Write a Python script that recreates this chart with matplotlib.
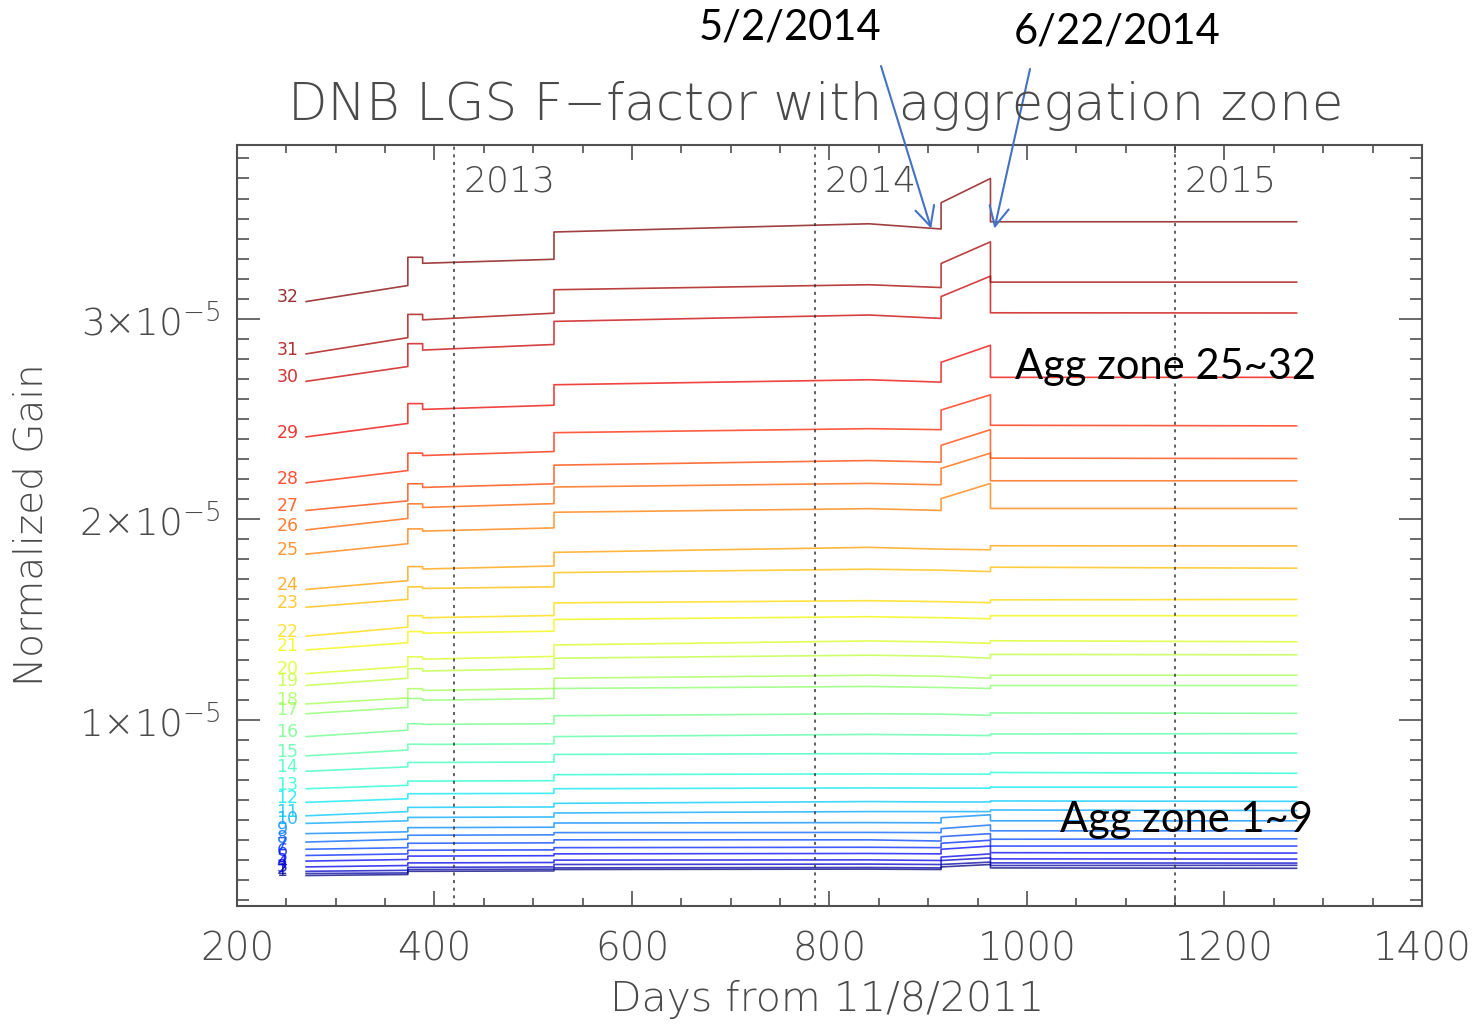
import numpy as np
import matplotlib
matplotlib.use("Agg")
import matplotlib.pyplot as plt
from matplotlib.ticker import MultipleLocator, FuncFormatter

# breakpoints (days from 11/8/2011); a repeated day is a step in the gain
step_days = [270, 373, 373, 388, 388, 521, 521, 840, 913, 913, 963, 963, 1273]
year_days = [420, 785, 1150]
year_names = ["2013", "2014", "2015"]
zones = list(range(1, 33))

# normalized gain (x1e-5) of zones 1..32 at each breakpoint
gain_start = [0.223, 0.233, 0.244, 0.266, 0.295, 0.323, 0.354, 0.390, 0.432, 0.483, 0.521, 0.588, 0.656, 0.743, 0.820, 0.916,
              1.030, 1.079, 1.171, 1.230, 1.348, 1.417, 1.561, 1.650, 1.826, 1.947, 2.044, 2.182, 2.411, 2.688, 2.825, 3.086]
gain_jump1_pre = [0.228, 0.236, 0.249, 0.273, 0.303, 0.331, 0.362, 0.404, 0.441, 0.496, 0.542, 0.606, 0.673, 0.765, 0.849, 0.948,
                  1.062, 1.109, 1.207, 1.266, 1.384, 1.462, 1.601, 1.694, 1.878, 2.004, 2.092, 2.243, 2.478, 2.762, 2.906, 3.166]
gain_jump1_post = [0.244, 0.253, 0.264, 0.286, 0.320, 0.349, 0.384, 0.424, 0.462, 0.513, 0.563, 0.631, 0.694, 0.787, 0.878, 0.980,
                   1.106, 1.155, 1.255, 1.314, 1.440, 1.519, 1.663, 1.764, 1.952, 2.077, 2.177, 2.330, 2.577, 2.876, 3.022, 3.307]
gain_bump_end = [0.244, 0.253, 0.264, 0.286, 0.320, 0.349, 0.384, 0.424, 0.462, 0.513, 0.563, 0.631, 0.694, 0.787, 0.877, 0.977,
                 1.097, 1.146, 1.243, 1.302, 1.432, 1.509, 1.655, 1.752, 1.941, 2.059, 2.159, 2.318, 2.548, 2.844, 2.995, 3.277]
gain_jump2_pre = [0.246, 0.255, 0.266, 0.288, 0.322, 0.351, 0.386, 0.426, 0.464, 0.515, 0.565, 0.633, 0.696, 0.789, 0.880, 0.980,
                  1.106, 1.156, 1.255, 1.316, 1.442, 1.520, 1.663, 1.767, 1.957, 2.078, 2.177, 2.338, 2.569, 2.872, 3.028, 3.297]
gain_jump2_post = [0.253, 0.261, 0.278, 0.300, 0.331, 0.362, 0.401, 0.437, 0.485, 0.535, 0.583, 0.656, 0.726, 0.827, 0.916, 1.020,
                   1.156, 1.207, 1.307, 1.373, 1.500, 1.583, 1.734, 1.835, 2.035, 2.161, 2.270, 2.432, 2.671, 2.987, 3.145, 3.433]
gain_mid = [0.255, 0.263, 0.280, 0.301, 0.333, 0.364, 0.401, 0.438, 0.487, 0.542, 0.592, 0.660, 0.730, 0.831, 0.927, 1.030,
            1.166, 1.222, 1.322, 1.393, 1.514, 1.594, 1.751, 1.860, 2.053, 2.179, 2.293, 2.452, 2.696, 3.019, 3.170, 3.474]
gain_may_pre = [0.253, 0.261, 0.278, 0.298, 0.331, 0.362, 0.395, 0.437, 0.486, 0.542, 0.590, 0.659, 0.729, 0.829, 0.924, 1.028,
                1.161, 1.217, 1.317, 1.388, 1.509, 1.589, 1.746, 1.851, 2.044, 2.172, 2.285, 2.447, 2.684, 3.002, 3.156, 3.448]
gain_may_post = [0.266, 0.278, 0.298, 0.315, 0.354, 0.384, 0.417, 0.457, 0.511, 0.542, 0.590, 0.659, 0.729, 0.829, 0.924, 1.028,
                 1.161, 1.217, 1.317, 1.388, 1.509, 1.589, 1.746, 1.851, 2.103, 2.254, 2.369, 2.545, 2.783, 3.111, 3.276, 3.579]
gain_june_pre = [0.278, 0.290, 0.311, 0.331, 0.370, 0.399, 0.432, 0.475, 0.526, 0.542, 0.590, 0.659, 0.729, 0.829, 0.921, 1.022,
                 1.156, 1.207, 1.307, 1.381, 1.504, 1.584, 1.739, 1.848, 2.179, 2.330, 2.447, 2.621, 2.868, 3.213, 3.384, 3.700]
gain_june_post = [0.261, 0.273, 0.286, 0.306, 0.337, 0.370, 0.404, 0.446, 0.496, 0.550, 0.595, 0.664, 0.737, 0.835, 0.929, 1.034,
                  1.171, 1.222, 1.326, 1.394, 1.519, 1.598, 1.761, 1.868, 2.054, 2.192, 2.305, 2.469, 2.708, 3.030, 3.183, 3.484]
gain_end = [0.259, 0.274, 0.285, 0.305, 0.335, 0.370, 0.406, 0.446, 0.496, 0.547, 0.593, 0.664, 0.733, 0.834, 0.931, 1.032,
            1.171, 1.222, 1.324, 1.389, 1.519, 1.600, 1.756, 1.867, 2.054, 2.192, 2.303, 2.466, 2.708, 3.029, 3.183, 3.484]

gray = "#4a4a4a"
thin = dict(family=["DejaVu Sans"], weight="light", color=gray)
callout = dict(family=["Lato", "DejaVu Sans"], color="black")

fig = plt.figure(figsize=(14.78, 10.25), dpi=100)
ax = fig.add_axes([0.16035, 0.1161, 0.80176, 0.74244])

cmap = plt.get_cmap("jet")
for i, z in enumerate(zones):
    vals = [gain_start[i], gain_jump1_pre[i], gain_jump1_post[i], gain_jump1_post[i], gain_bump_end[i],
            gain_jump2_pre[i], gain_jump2_post[i], gain_mid[i], gain_may_pre[i], gain_may_post[i],
            gain_june_pre[i], gain_june_post[i], gain_end[i]]
    col = cmap(i / 31.0)
    ax.plot(step_days, np.array(vals) * 1e-5, color=col, lw=1.2, alpha=0.75)
    ax.annotate(str(z), xy=(240, gain_start[i] * 1e-5), xytext=(0, 3), textcoords="offset points",
                ha="left", va="center", fontsize=12.5, color=col, alpha=0.8, family=["DejaVu Sans"])

for d, name in zip(year_days, year_names):
    ax.axvline(d, color="#333333", lw=1.1, ls=(0, (2, 3)))
    ax.annotate(name, xy=(d, 1), xycoords=("data", "axes fraction"), xytext=(7, -26),
                textcoords="offset points", ha="left", va="center", fontsize=26, **thin)

ax.set_xlim(200, 1400)
ax.set_ylim(0.071e-5, 3.867e-5)
ax.xaxis.set_major_locator(MultipleLocator(200))
ax.xaxis.set_minor_locator(MultipleLocator(50))
ax.yaxis.set_major_locator(MultipleLocator(1e-5))
ax.yaxis.set_minor_locator(MultipleLocator(1e-6))
ax.yaxis.set_major_formatter(FuncFormatter(lambda v, p: "%d×10$^{\\mathregular{-5}}$" % round(v / 1e-5)))
ax.tick_params(which="both", direction="in", top=True, right=True, color="#505050", width=1.2)
ax.tick_params(axis="x", which="major", length=10.8, pad=18, labelsize=28, labelcolor=gray)
ax.tick_params(axis="x", which="minor", length=5.8)
ax.tick_params(axis="y", which="major", length=16.5, pad=12, labelsize=27, labelcolor=gray)
ax.tick_params(axis="y", which="minor", length=8.6)
for lab in ax.get_xticklabels() + ax.get_yticklabels():
    lab.set_family(["DejaVu Sans"])
    lab.set_weight("light")
for sp in ax.spines.values():
    sp.set_color("#505050")
    sp.set_linewidth(1.5)

fig.text(0.552, 0.897, "DNB LGS F−factor with aggregation zone", ha="center", va="center", fontsize=37, **thin)
fig.text(0.5596, 0.0244, "Days from 11/8/2011", ha="center", va="center", fontsize=29.5, **thin)
fig.text(0.021, 0.4878, "Normalized Gain", ha="center", va="center", rotation=90, fontsize=28, **thin)

# callouts added on top of the plot
fig.text(0.5345, 0.9727, "5/2/2014", ha="center", va="center", fontsize=30, **callout)
fig.text(0.7558, 0.9688, "6/22/2014", ha="center", va="center", fontsize=30, **callout)
fig.text(0.6867, 0.642, "Agg zone 25~32", ha="left", va="center", fontsize=30, **callout)
fig.text(0.7172, 0.2, "Agg zone 1~9", ha="left", va="center", fontsize=30, **callout)
arrow = dict(arrowstyle="->,head_length=0.7,head_width=0.35", color="#4472C4", lw=1.5,
             shrinkA=0, shrinkB=0, mutation_scale=20)
ax.annotate("", xy=(903, 3.45e-5), xytext=(881 / 1478, 1 - 66 / 1025), textcoords="figure fraction",
            arrowprops=arrow, annotation_clip=False)
ax.annotate("", xy=(967, 3.45e-5), xytext=(1030 / 1478, 1 - 69 / 1025), textcoords="figure fraction",
            arrowprops=arrow, annotation_clip=False)

fig.savefig("out.png", dpi=100)
